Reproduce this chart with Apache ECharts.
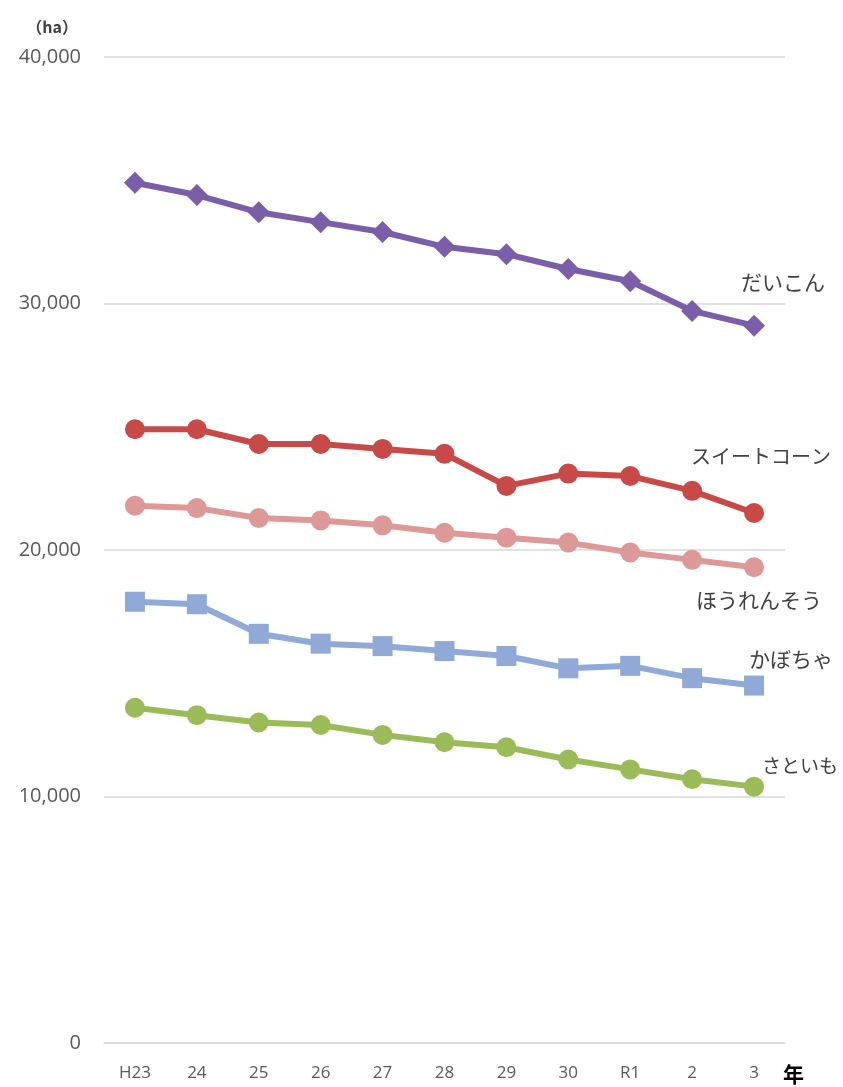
<!DOCTYPE html>
<html>
<head>
<meta charset="utf-8">
<script src="https://cdn.jsdelivr.net/npm/echarts@6/dist/echarts.min.js"></script>
<style>
  html, body { margin: 0; padding: 0; background: #fff; }
  #chart { width: 843px; height: 1087px; }
</style>
</head>
<body>
<div id="chart"></div>
<script>
// Planted area by crop (ha), H23 .. R3
const years = ['H23', '24', '25', '26', '27', '28', '29', '30', 'R1', '2', '3'];
const daikon      = [34900, 34400, 33700, 33300, 32900, 32300, 32000, 31400, 30900, 29700, 29100];
const sweetcorn   = [24900, 24900, 24300, 24300, 24100, 23900, 22600, 23100, 23000, 22400, 21500];
const spinach     = [21800, 21700, 21300, 21200, 21000, 20700, 20500, 20300, 19900, 19600, 19300];
const pumpkin     = [17900, 17800, 16600, 16200, 16100, 15900, 15700, 15200, 15300, 14800, 14500];
const taro        = [13600, 13300, 13000, 12900, 12500, 12200, 12000, 11500, 11100, 10700, 10400];

const JP = '"Noto Sans CJK JP", "Noto Sans", sans-serif';
const NUM = '"Open Sans", "Noto Sans", sans-serif';

function lineSeries(name, data, color, symbol, symbolSize, labelOffset, labelSize) {
  return {
    name: name,
    type: 'line',
    data: data,
    symbol: symbol,
    symbolSize: symbolSize,
    lineStyle: { color: color, width: 6 },
    itemStyle: { color: color },
    emphasis: { disabled: true },
    endLabel: {
      show: true,
      formatter: name,
      distance: 0,
      offset: labelOffset,
      color: '#404040',
      fontSize: labelSize,
      fontFamily: JP
    },
    z: 3
  };
}

const chart = echarts.init(document.getElementById('chart'));
chart.setOption({
  animation: false,
  backgroundColor: '#fff',
  grid: { left: 104, right: 58, top: 57, bottom: 44 },
  xAxis: {
    type: 'category',
    data: years,
    boundaryGap: true,
    axisLine: { show: true, lineStyle: { color: '#d9d9d9', width: 1.5 } },
    axisTick: { show: false },
    axisLabel: { color: '#595959', fontSize: 17, fontFamily: NUM, margin: 22 },
    name: '年',
    nameLocation: 'end',
    nameGap: -2,
    nameTextStyle: {
      color: '#000', fontSize: 21, fontWeight: 'bold', fontFamily: JP,
      verticalAlign: 'top', padding: [21, 0, 0, 0]
    }
  },
  yAxis: {
    type: 'value',
    min: 0,
    max: 40000,
    interval: 10000,
    axisLine: { show: false },
    axisTick: { show: false },
    splitLine: { lineStyle: { color: '#d9d9d9', width: 1.5 } },
    axisLabel: {
      color: '#595959', fontSize: 20, fontFamily: NUM, margin: 23,
      formatter: v => v.toLocaleString('en-US')
    },
    name: '（ha）',
    nameLocation: 'end',
    nameGap: 22,
    nameTextStyle: {
      color: '#404040', fontSize: 16, fontWeight: 'bold', fontFamily: JP,
      align: 'right', padding: [0, 26, 0, 0]
    }
  },
  series: [
    lineSeries('だいこん', daikon, '#7a5ea8', 'diamond', 22, [-13, -44], 21),
    lineSeries('スイートコーン', sweetcorn, '#c84a48', 'circle', 20, [-63, -57], 20),
    lineSeries('ほうれんそう', spinach, '#dc9997', 'circle', 20, [-58, 33], 21),
    lineSeries('かぼちゃ', pumpkin, '#90a9d6', 'rect', 20, [-5, -27], 21),
    lineSeries('さといも', taro, '#9bbb59', 'circle', 20, [8, -21], 19)
  ]
});
</script>
</body>
</html>
